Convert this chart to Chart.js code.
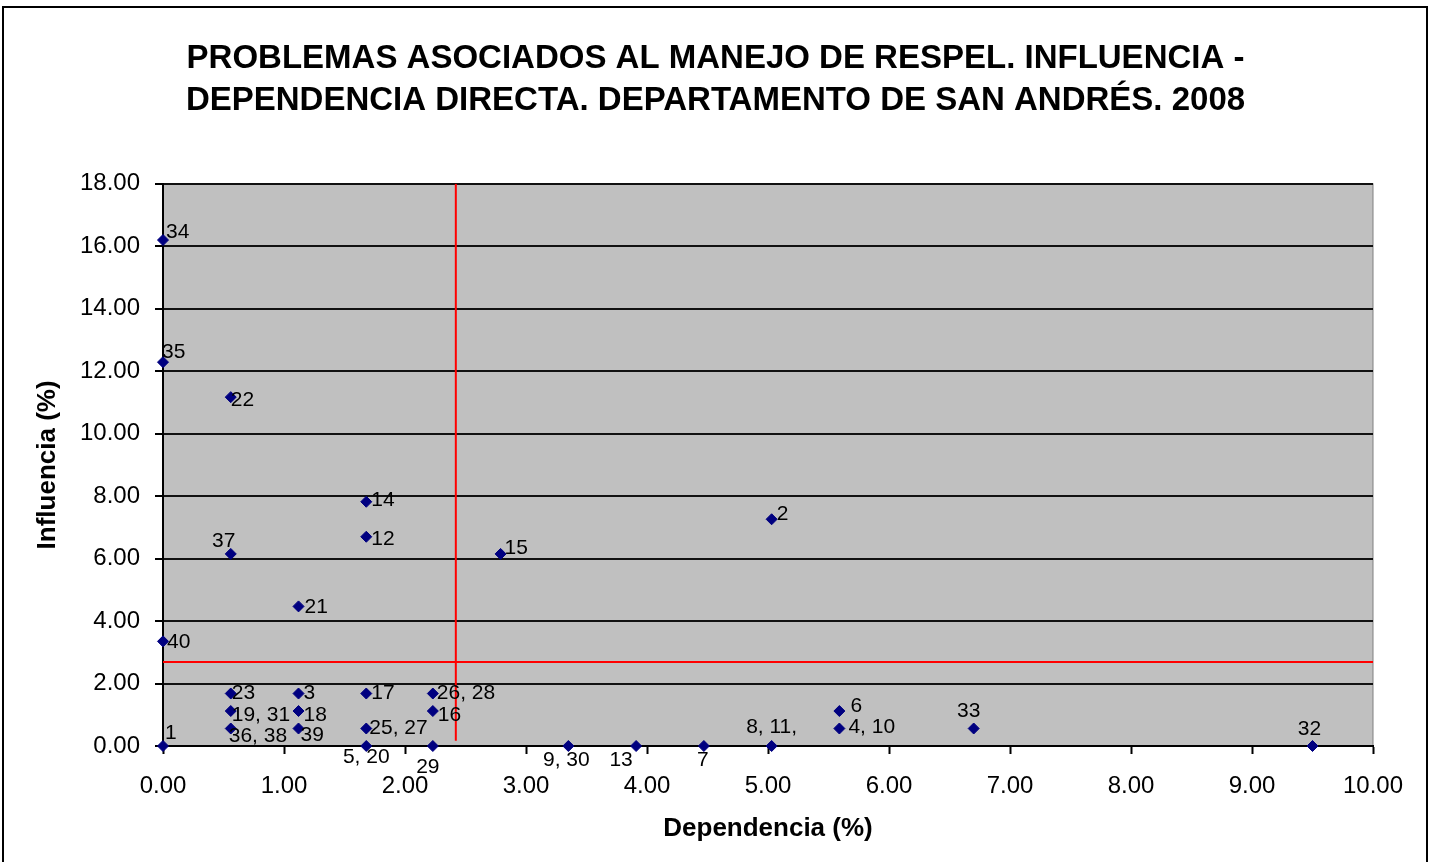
<!DOCTYPE html>
<html>
<head>
<meta charset="utf-8">
<script src="https://cdn.jsdelivr.net/npm/chart.js@4.4.0/dist/chart.umd.min.js"></script>
<style>
  html, body { margin: 0; padding: 0; background: #fff; }
  #wrap { width: 1431px; height: 862px; }
</style>
</head>
<body>
<div id="wrap"><canvas id="myChart" width="1431" height="862"></canvas></div>
<script>
// Problem numbers shown next to each point
const problemLabels = ['1', '2', '3', '4, 10', '5, 20', '6', '7', '8, 11,', '9, 30', '12', '13', '14', '15',
  '16', '17', '18', '19, 31', '21', '22', '23', '25, 27', '26, 28', '29', '32', '33', '34', '35',
  '36, 38', '37', '39', '40'];

// Dependencia (%) - x axis
const dependencia = [0, 5.03, 1.12, 5.59, 1.68, 5.59, 4.47, 5.03, 3.35, 1.68, 3.91, 1.68, 2.79,
  2.23, 1.68, 1.12, 0.56, 1.12, 0.56, 0.56, 1.68, 2.23, 2.23, 9.50, 6.70, 0, 0,
  0.56, 0.56, 1.12, 0];

// Influencia (%) - y axis
const influencia = [0, 7.26, 1.68, 0.56, 0, 1.12, 0, 0, 0, 6.70, 0, 7.82, 6.15,
  1.12, 1.68, 1.12, 1.12, 4.47, 11.17, 1.68, 0.56, 1.68, 0, 0, 0.56, 16.20, 12.29,
  0.56, 6.15, 0.56, 3.35];

// reference lines (averages)
const refDependencia = 2.42;
const refInfluencia = 2.69;
const refDependenciaSpan = [18, 0.17];
const refInfluenciaSpan = [0, 10];

// label placement next to each point: [align, dx, dy] in px
const labelOffsets = [
  ['left', 2, -13], ['left', 5, -5], ['left', 5, 0], ['left', 9, -1], ['center', 0, 11],
  ['left', 11, -5], ['center', -1, 14], ['center', 0, -19], ['center', -2, 14], ['left', 5, 2],
  ['center', -15, 14], ['left', 5, -2], ['left', 4, -6], ['left', 5, 4], ['left', 5, 0],
  ['left', 5, 4], ['left', 1, 4], ['left', 6, 1], ['left', 0, 3], ['left', 1, 0],
  ['left', 3, 0], ['left', 4, 0], ['center', -5, 21], ['center', -3, -17], ['center', -5, -17],
  ['left', 3, -8], ['left', -1, -10], ['left', -2, 8], ['center', -7, -13], ['left', 2, 7],
  ['left', 4, 1]
];

const FONT = "'Liberation Sans', Arial, sans-serif";

const points = dependencia.map((x, i) => ({ x: x, y: influencia[i] }));

// white page, outer frame and grey plot area
const backgroundPlugin = {
  id: 'backgroundPlugin',
  beforeDraw(chart) {
    const ctx = chart.ctx;
    const a = chart.chartArea;
    ctx.save();
    ctx.fillStyle = '#fff';
    ctx.fillRect(0, 0, chart.width, chart.height);
    ctx.strokeStyle = '#000';
    ctx.lineWidth = 2;
    ctx.strokeRect(3, 7, 1424, 880);
    ctx.fillStyle = '#c0c0c0';
    ctx.fillRect(a.left, a.top, a.right - a.left, a.bottom - a.top);
    ctx.strokeStyle = '#808080';
    ctx.lineWidth = 1;
    ctx.strokeRect(a.left, a.top, a.right - a.left, a.bottom - a.top);
    ctx.restore();
  }
};

// point labels (problem numbers)
const pointLabels = {
  id: 'pointLabels',
  afterDatasetsDraw(chart) {
    const ctx = chart.ctx;
    const meta = chart.getDatasetMeta(0);
    ctx.save();
    ctx.font = '21px ' + FONT;
    ctx.fillStyle = '#000';
    ctx.textBaseline = 'middle';
    meta.data.forEach((pt, i) => {
      const [align, dx, dy] = labelOffsets[i];
      ctx.textAlign = align;
      ctx.fillText(problemLabels[i], pt.x + dx, pt.y + dy);
    });
    ctx.restore();
  }
};

const ctx = document.getElementById('myChart').getContext('2d');
const myChart = new Chart(ctx, {
  type: 'scatter',
  data: {
    datasets: [
      {
        label: 'Problemas',
        data: points,
        clip: false,
        pointStyle: 'rectRot',
        pointRadius: 5.5,
        backgroundColor: '#000080',
        borderColor: '#000080',
        borderWidth: 1
      },
      {
        label: 'Dependencia media',
        data: refDependenciaSpan.map(v => ({ x: refDependencia, y: v })),
        showLine: true,
        pointRadius: 0,
        borderColor: '#ff0000',
        borderWidth: 2
      },
      {
        label: 'Influencia media',
        data: refInfluenciaSpan.map(v => ({ x: v, y: refInfluencia })),
        showLine: true,
        pointRadius: 0,
        borderColor: '#ff0000',
        borderWidth: 2
      }
    ]
  },
  options: {
    responsive: false,
    animation: false,
    layout: { padding: { left: 0, right: 0, top: 0, bottom: 0 } },
    plugins: {
      legend: { display: false },
      tooltip: { enabled: false },
      title: {
        display: true,
        text: ['PROBLEMAS ASOCIADOS AL MANEJO DE RESPEL. INFLUENCIA -',
               'DEPENDENCIA DIRECTA. DEPARTAMENTO DE SAN ANDRÉS. 2008'],
        color: '#000',
        font: { family: FONT, size: 33, weight: 'bold', lineHeight: 1.27 },
        padding: { top: 38, bottom: 62 }
      }
    },
    scales: {
      x: {
        type: 'linear',
        position: 'bottom',
        min: 0,
        max: 10,
        afterFit(scale) { scale.height = 116; },
        ticks: {
          stepSize: 1,
          color: '#000',
          padding: 18,
          font: { family: FONT, size: 24 },
          callback: v => v.toFixed(2)
        },
        grid: { drawOnChartArea: false, drawTicks: true, tickLength: 8, tickColor: '#000', tickWidth: 2 },
        border: { display: true, color: '#000', width: 2 },
        title: {
          display: true,
          text: 'Dependencia (%)',
          color: '#000',
          font: { family: FONT, size: 26, weight: 'bold', lineHeight: 1.2 },
          padding: { top: 18, bottom: 18 }
        }
      },
      y: {
        type: 'linear',
        position: 'left',
        min: 0,
        max: 18,
        afterFit(scale) { scale.width = 163; },
        ticks: {
          stepSize: 2,
          color: '#000',
          padding: 15,
          font: { family: FONT, size: 24 },
          callback: v => v.toFixed(2)
        },
        grid: { color: '#111', lineWidth: 2, drawTicks: true, tickLength: 8, tickColor: '#000' },
        border: { display: true, color: '#000', width: 2 },
        title: {
          display: true,
          text: 'Influencia (%)',
          color: '#000',
          font: { family: FONT, size: 26, weight: 'bold', lineHeight: 1.2 },
          padding: { top: 32, bottom: 0 }
        }
      },
      yRight: {
        type: 'linear',
        position: 'right',
        display: true,
        afterFit(scale) { scale.width = 58; },
        ticks: { display: false },
        grid: { display: false },
        border: { display: false }
      }
    }
  },
  plugins: [backgroundPlugin, pointLabels]
});
</script>
</body>
</html>
